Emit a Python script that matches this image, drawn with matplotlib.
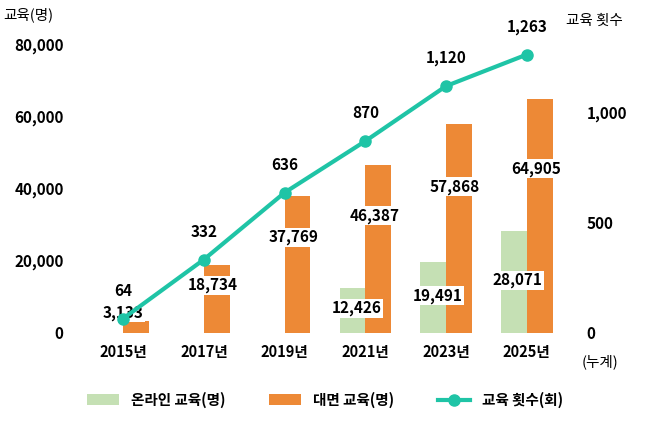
import matplotlib
matplotlib.use("Agg")
import matplotlib.pyplot as plt
import numpy as np

plt.rcParams['font.family'] = ['Noto Sans CJK KR', 'DejaVu Sans']

years = ['2015년', '2017년', '2019년', '2021년', '2023년', '2025년']
online = [0, 0, 0, 12426, 19491, 28071]
offline = [3133, 18734, 37769, 46387, 57868, 64905]
counts = [64, 332, 636, 870, 1120, 1263]

green = '#c5e0b4'
orange = '#ed8936'
teal = '#1fc4a6'

fig = plt.figure(figsize=(6.5, 4.21), dpi=100)
ax = fig.add_axes([0.115, 0.21, 0.77, 0.685])
x = np.arange(len(years))
w = 0.32
ax.bar(x - w/2, online, w, color=green, label='온라인 교육(명)')
ax.bar(x + w/2, offline, w, color=orange, label='대면 교육(명)')
ax.set_ylim(0, 80000)
ax.set_xlim(-0.6, 5.6)
ax.set_yticks([0, 20000, 40000, 60000, 80000])
ax.set_yticklabels([f'{v:,}' for v in [0, 20000, 40000, 60000, 80000]],
                   fontsize=11, fontweight='bold')
ax.set_xticks(x)
ax.set_xticklabels(years, fontsize=10.5, fontweight='bold')
ax.tick_params(length=0, pad=8)
for s in ax.spines.values():
    s.set_visible(False)

bb = dict(boxstyle='square,pad=0.1', fc='white', ec='none')
for i, v in enumerate(online):
    if v:
        ax.text(x[i] - w/2 + 0.05, v * 0.5 + 500, f'{v:,}', ha='center', va='center',
                fontsize=11, fontweight='bold', bbox=bb, zorder=5)
for i, v in enumerate(offline):
    yy = v * 0.7 if i > 0 else 5500
    ax.text(x[i] + w/2 - 0.05 if i > 0 else x[i], yy, f'{v:,}', ha='center', va='center',
            fontsize=11, fontweight='bold', bbox=bb, zorder=5)

ax2 = ax.twinx()
ax2.plot(x, counts, color=teal, lw=3, marker='o', ms=8, label='교육 횟수(회)', zorder=3)
ax2.set_ylim(0, 1310)
ax2.set_yticks([0, 500, 1000])
ax2.set_yticklabels(['0', '500', '1,000'], fontsize=11, fontweight='bold')
ax2.tick_params(length=0, pad=8)
for s in ax2.spines.values():
    s.set_visible(False)
for i, c in enumerate(counts):
    ax2.text(x[i], c + 90, f'{c:,}', ha='center', va='bottom',
             fontsize=11, fontweight='bold')

fig.text(0.005, 0.965, '교육(명)', fontsize=10.5, va='center')
fig.text(0.87, 0.95, '교육 횟수', fontsize=10.5, va='center')
fig.text(0.895, 0.14, '(누계)', fontsize=10.5, va='center')

h1, l1 = ax.get_legend_handles_labels()
h2, l2 = ax2.get_legend_handles_labels()
fig.legend(h1 + h2, l1 + l2, loc='lower center', ncol=3, frameon=False,
           bbox_to_anchor=(0.5, 0.0), prop={'size': 10.5, 'weight': 'bold'},
           handlelength=2.2, columnspacing=3)
fig.savefig('out.png', dpi=100)
